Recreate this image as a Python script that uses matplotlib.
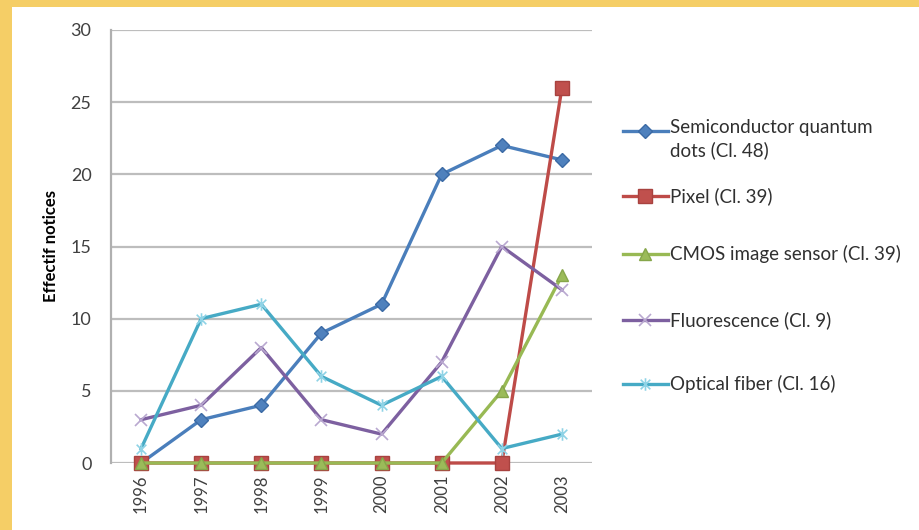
import matplotlib
matplotlib.use('Agg')
import matplotlib.pyplot as plt
from matplotlib.path import Path
from matplotlib.lines import Line2D
from matplotlib.patches import Rectangle

plt.rcParams['font.family'] = ['Lato', 'DejaVu Sans']

# Data
years = ['1996', '1997', '1998', '1999', '2000', '2001', '2002', '2003']
semiconductor = [0, 3, 4, 9, 11, 20, 22, 21]
pixel = [0, 0, 0, 0, 0, 0, 0, 26]
cmos = [0, 0, 0, 0, 0, 0, 5, 13]
fluorescence = [3, 4, 8, 3, 2, 7, 15, 12]
optical_fiber = [1, 10, 11, 6, 4, 6, 1, 2]

labels = ['Semiconductor quantum\ndots (Cl. 48)', 'Pixel (Cl. 39)',
          'CMOS image sensor (Cl. 39)', 'Fluorescence (Cl. 9)',
          'Optical fiber (Cl. 16)']

# excel style star: x plus a vertical bar
star = Path([(-1, -1), (1, 1), (-1, 1), (1, -1), (0, -1.3), (0, 1.3)],
            [Path.MOVETO, Path.LINETO, Path.MOVETO, Path.LINETO,
             Path.MOVETO, Path.LINETO])

styles = [
    dict(color='#4A7EBB', marker='D', ms=7.5, mfc='#4F81BD', mec='#3B6AA5'),
    dict(color='#BE4B48', marker='s', ms=10, mfc='#C0504D', mec='#A8423F'),
    dict(color='#98B954', marker='^', ms=9, mfc='#9BBB59', mec='#86A64A'),
    dict(color='#7D60A0', marker='x', ms=9, mfc='#8064A2', mec='#B9A8D0', mew=1.2),
    dict(color='#46AAC5', marker=star, ms=9, mfc='#4BACC6', mec='#8FD3E6', mew=1.2),
]
series = [semiconductor, pixel, cmos, fluorescence, optical_fiber]

fig = plt.figure(figsize=(9.2, 5.3), dpi=100)
fig.patch.set_facecolor('white')
# gold frame on top and left
fig.patches.append(Rectangle((0, 1 - 7 / 530), 1, 7 / 530, transform=fig.transFigure,
                             facecolor='#F5CE66', edgecolor='none', zorder=0))
fig.patches.append(Rectangle((0, 0), 12 / 920, 1, transform=fig.transFigure,
                             facecolor='#F5CE66', edgecolor='none', zorder=0))

ax = fig.add_axes([111 / 920, 1 - 463 / 530, 481 / 920, 433 / 530])

x = list(range(len(years)))
for vals, st in zip(series, styles):
    ax.plot(x, vals, lw=2.4, clip_on=False, **st)

ax.set_xlim(-0.5, len(years) - 0.5)
ax.set_ylim(0, 30)
ax.set_yticks([0, 5, 10, 15, 20, 25, 30])
ax.set_xticks(x)
ax.set_xticklabels(years, rotation=90)
ax.tick_params(axis='both', length=0, labelsize=13, colors='#404040')
ax.tick_params(axis='x', labelsize=12, pad=8)
ax.tick_params(axis='y', pad=14)
ax.grid(axis='y', color='#BDBDBD', lw=1.6)
ax.set_axisbelow(True)
for s in ['top', 'right', 'bottom']:
    ax.spines[s].set_visible(False)
ax.spines['left'].set_color('#B0B0B0')
ax.spines['left'].set_linewidth(1.6)
ax.set_ylabel('Effectif notices', fontsize=12, fontweight='bold')
ax.yaxis.set_label_coords(-52 / 481, 0.5)

# legend drawn by hand to keep the Excel spacing
leg_y = [131, 196, 254, 320, 384]
for lab, st, yy in zip(labels, styles, leg_y):
    yf = 1 - yy / 530
    fig.add_artist(Line2D([623 / 920, 668 / 920], [yf, yf], lw=2.4,
                          transform=fig.transFigure, color=st['color']))
    mk = {k: v for k, v in st.items() if k != 'color'}
    fig.add_artist(Line2D([645 / 920], [yf], transform=fig.transFigure,
                          color=st['color'], lw=0, **mk))
    two = '\n' in lab
    fig.text(670 / 920, yf + (12 / 530 if two else 0), lab, fontsize=13.5,
             color='#303030', va='top' if two else 'center', linespacing=1.35)

fig.savefig('out.png', dpi=100)
